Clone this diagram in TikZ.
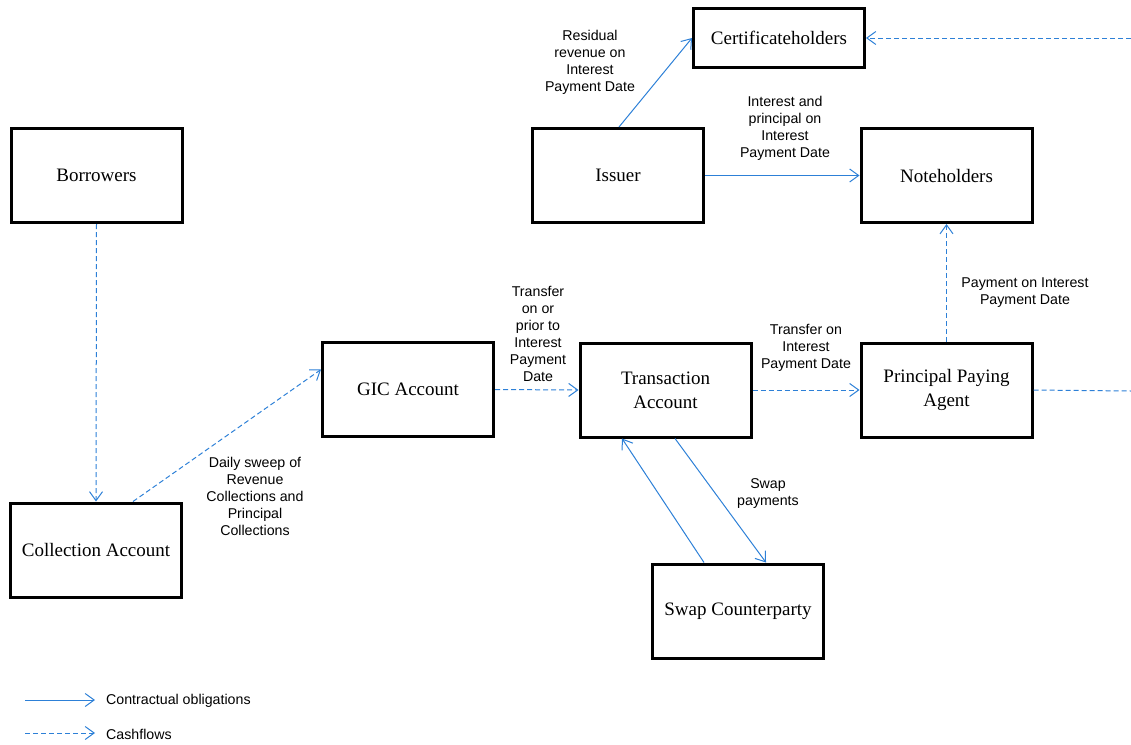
\documentclass[tikz,border=0pt]{standalone}
\usepackage{fontspec}
\setmainfont{Liberation Serif}
\setsansfont{Liberation Sans}
\usetikzlibrary{arrows.meta}
\definecolor{flow}{RGB}{45,128,215}
\begin{document}
\begin{tikzpicture}[x=1pt,y=-1pt,
  box/.style={draw=black,line width=3pt,minimum width=171pt,minimum height=94pt,
    inner sep=2pt,align=center,font=\fontsize{19}{24}\selectfont},
  lbl/.style={align=center,inner sep=0pt,font=\sffamily\fontsize{14.2}{17}\selectfont},
  tip/.style={-{Straight Barb[length=9pt,width=13pt]}},
  contract/.style={draw=flow,line width=1pt,tip},
  cash/.style={draw=flow,line width=1pt,dash pattern=on 5pt off 3pt,tip},
  cashline/.style={draw=flow,line width=1pt,dash pattern=on 5pt off 3pt},
]
\useasboundingbox (0,0) rectangle (1131,744);

% boxes
\node[box,minimum height=59pt] (cert) at (779,38) {Certificateholders};
\node[box] (issuer) at (618,175.5) {Issuer};
\node[box] (note) at (946.5,175.5) {Noteholders};
\node[box] (borrow) at (96.5,175.5) {Borrowers};
\node[box] (gic) at (408,389.5) {GIC Account};
\node[box] (trans) at (665.5,390) {Transaction\\Account};
\node[box] (ppa) at (946.5,390) {Principal Paying\\Agent};
\node[box] (coll) at (96,550) {Collection Account};
\node[box] (swap) at (738,611) {Swap Counterparty};

% free ends
\coordinate (rtop) at (1131,38);
\coordinate (rmid) at (1131,391);

% connectors
\draw[cash] (borrow.south) -- (coll.north);
\draw[cash] ([xshift=37pt]coll.north) -- ([yshift=20pt]gic.west);
\draw[cash] (gic.east) -- (trans.west);
\draw[cash] (trans.east) -- (ppa.west);
\draw[cashline] (ppa.east) -- (rmid);
\draw[cash] (ppa.north) -- (note.south);
\draw[cash] (rtop) -- (cert.east);
\draw[contract] (issuer.east) -- (note.west);
\draw[contract] ([xshift=1pt]issuer.north) -- (cert.west);
\draw[contract] ([xshift=-34pt]swap.north) -- ([xshift=-43.5pt]trans.south);
\draw[contract] ([xshift=9.5pt]trans.south) -- ([xshift=28pt]swap.north);

% labels
\node[lbl] (l1) at (590,62) {Residual\\revenue on\\Interest\\Payment Date};
\node[lbl] (l2) at (785,128) {Interest and\\principal on\\Interest\\Payment Date};
\node[lbl] (l3) at (1025,293) {Payment on Interest\\Payment Date};
\node[lbl] (l4) at (806,348) {Transfer on\\Interest\\Payment Date};
\node[lbl] (l5) at (538,334) {Transfer\\on or\\prior to\\Interest\\Payment\\Date};
\node[lbl] (l6) at (255,496) {Daily sweep of\\Revenue\\Collections and\\Principal\\Collections};
\node[lbl] (l7) at (768,494) {Swap\\payments};

% legend
\coordinate (lg1a) at (25,700);
\coordinate (lg1b) at (95,700);
\coordinate (lg2a) at (25,733);
\coordinate (lg2b) at (95,733);
\draw[contract] (lg1a) -- (lg1b);
\draw[cash] (lg2a) -- (lg2b);
\node[lbl,anchor=west] (lt1) at (106,701) {Contractual obligations};
\node[lbl,anchor=west] (lt2) at (106,734) {Cashflows};
\end{tikzpicture}
\end{document}
